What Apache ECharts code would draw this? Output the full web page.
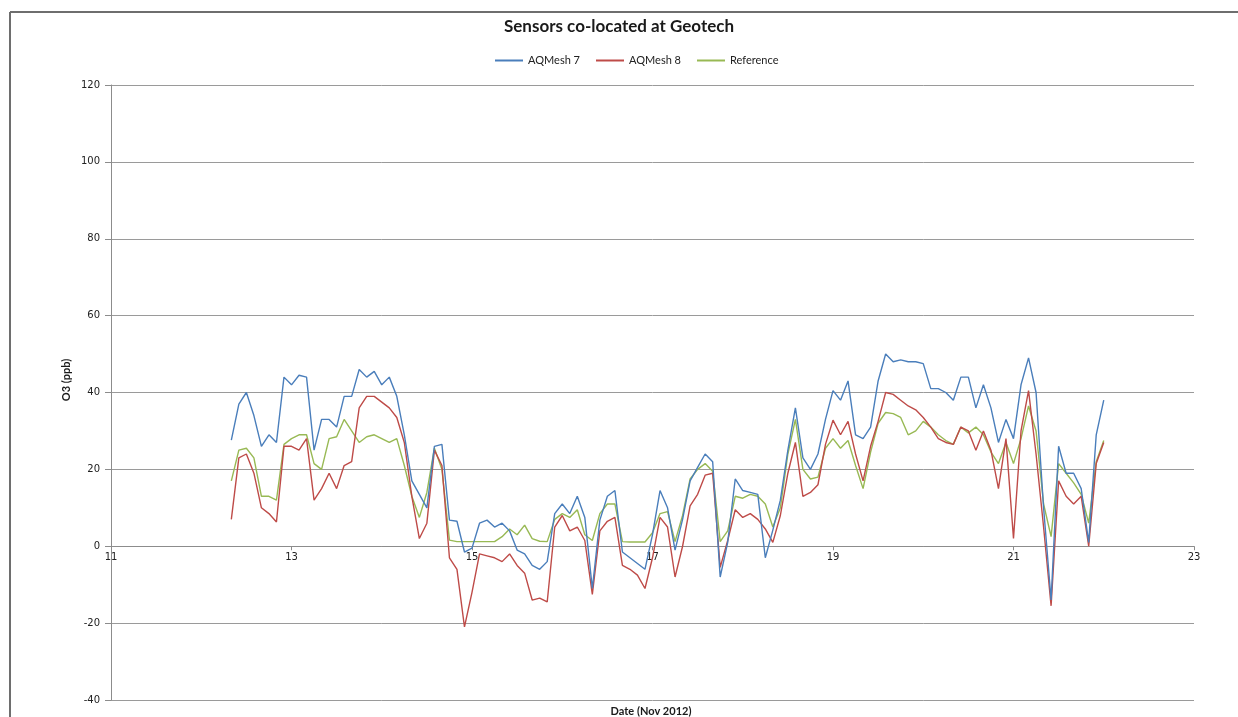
<!DOCTYPE html>
<html>
<head>
<meta charset="utf-8">
<title>Sensors co-located at Geotech</title>
<script src="https://cdn.jsdelivr.net/npm/echarts@6/dist/echarts.min.js"></script>
<style>
  html, body { margin: 0; padding: 0; background: #ffffff; }
  #chart { width: 1238px; height: 717px; }
</style>
</head>
<body>
<div id="chart"></div>
<script>
// O3 readings, one sample every 2 hours from 12 Nov 08:00 to 22 Nov 00:00
const START_DAY = 12 + 8 / 24;
const STEP_DAYS = 2 / 24;

const seriesNames = ['AQMesh 7', 'AQMesh 8', 'Reference'];
const seriesColors = ['#4a7ebb', '#be4b48', '#98b954'];

const aqmesh7 = [
  27.6, 37, 40, 34, 26, 29, 27, 44, 42, 44.5, 44, 25, 33, 33, 31, 39, 39, 46,
  44, 45.5, 42, 44, 39, 29, 17, 13.5, 10, 26, 26.5, 6.8, 6.5, -1.5, -0.5, 6, 6.8, 5, 6, 4,
  -1, -2, -5, -6, -4, 8.5, 11, 8.5, 13, 7.5, -11, 6.8, 13, 14.5, -1.5, -3, -4.5, -6, 3, 14.5,
  10, -1, 7, 17, 20.5, 24, 22, -8, 1, 17.5, 14.5, 14, 13.5, -3, 4.2, 12, 25, 36, 23, 20,
  24, 33, 40.5, 38, 43, 29, 28, 31, 43, 50, 48, 48.5, 48, 48, 47.5, 41, 41, 40, 38, 44,
  44, 36, 42, 36, 27, 33, 28, 42, 49, 40, 10, -14, 26, 19, 19, 15, 1, 29, 38
];

const aqmesh8 = [
  7, 23, 24, 19, 10, 8.5, 6.3, 26, 26, 25, 28, 12, 15, 19, 15, 21, 22, 36,
  39, 39, 37.5, 36, 33.5, 27, 13, 2, 6, 25, 21, -3, -6, -21, -12, -2, -2.5, -3, -4, -2,
  -5, -7, -14, -13.5, -14.5, 5, 8, 4, 5, 1.5, -12.5, 4, 6.5, 7.5, -5, -6, -7.5, -11, -3, 7.5,
  5, -8, 0, 10.5, 13.5, 18.5, 19, -5.5, 1.5, 9.5, 7.5, 8.5, 7, 4.5, 1, 8, 19, 27, 13, 14,
  16, 26.5, 32.8, 29, 32.5, 24, 17, 26, 32.5, 40, 39.5, 38, 36.5, 35.5, 33.5, 31, 28, 27, 26.5, 31,
  30, 25, 30, 25, 15, 28, 2, 30, 40.5, 24, 5, -15.5, 17, 13, 11, 13, 0, 21.5, 27
];

const reference = [
  17, 25, 25.5, 23, 13, 13, 12, 26.5, 28, 29, 29, 21.5, 20, 28, 28.5, 33, 30, 27,
  28.5, 29, 28, 27, 28, 21, 13, 7.5, 14, 25.5, 20, 1.6, 1.2, 1.2, 1.2, 1.2, 1.2, 1.2, 2.5, 4.5,
  3, 5.5, 2, 1.3, 1.2, 7, 8.5, 7.5, 9.5, 3, 1.5, 8.5, 11, 11, 1.2, 1.1, 1.1, 1.1, 3.5, 8.5,
  9, 1.2, 8, 17.5, 20, 21.5, 19.5, 1.2, 4, 13, 12.5, 13.5, 13, 11, 5, 10, 24, 33, 20, 17.5,
  18, 25.5, 28, 25.5, 27.5, 21, 15, 24.5, 32, 34.8, 34.5, 33.5, 29, 30, 32.5, 31, 29, 27.5, 26.5, 31,
  29.5, 31, 29, 24.5, 21.5, 27, 21.5, 28, 36.5, 30, 11, 2.5, 21.5, 19, 16.5, 13.5, 6, 22, 27.5
];

// Axis ranges and tick spacing
const xRange = { min: 11, max: 23, interval: 2 };
const yRange = { min: -40, max: 120, interval: 20 };

const sampleDays = aqmesh7.map((_, i) => START_DAY + i * STEP_DAYS);
const toPairs = values => values.map((v, i) => [sampleDays[i], v]);
const allValues = [aqmesh7, aqmesh8, reference];

const CHART_H = 717;
const gridBox = { left: 111, right: 44, top: 85, bottom: 17 };
// the date axis sits on the zero line: shift it up from the plot bottom
const plotHeight = CHART_H - gridBox.top - gridBox.bottom;
const zeroOffset = plotHeight * (0 - yRange.min) / (yRange.max - yRange.min);

const chart = echarts.init(document.getElementById('chart'), null, { renderer: 'canvas' });

const labelFont = 'DejaVu Sans';
const textFont = 'Lato';

chart.setOption({
  backgroundColor: '#ffffff',
  animation: false,
  grid: gridBox,
  legend: {
    top: 50,
    left: 490,
    itemGap: 16,
    itemWidth: 28,
    itemHeight: 2,
    icon: 'rect',
    textStyle: { fontFamily: textFont, fontSize: 11, color: '#222' },
    data: seriesNames
  },
  xAxis: {
    type: 'value',
    position: 'bottom',
    offset: -zeroOffset,
    min: xRange.min,
    max: xRange.max,
    interval: xRange.interval,
    axisLine: { show: true, onZero: false, lineStyle: { color: '#8c8c8c', width: 1 } },
    axisTick: { show: true, length: 4, lineStyle: { color: '#8c8c8c' } },
    axisLabel: { fontFamily: labelFont, fontSize: 10, color: '#222', margin: 6 },
    splitLine: { show: false }
  },
  yAxis: {
    type: 'value',
    min: yRange.min,
    max: yRange.max,
    interval: yRange.interval,
    axisLine: { show: true, onZero: false, lineStyle: { color: '#8c8c8c', width: 1 } },
    axisTick: { show: true, length: 6, lineStyle: { color: '#8c8c8c' } },
    axisLabel: { fontFamily: labelFont, fontSize: 10, color: '#222', margin: 11 },
    splitLine: { show: true, lineStyle: { color: '#9a9a9a', width: 1 } }
  },
  series: seriesNames.map((name, k) => ({
    name: name,
    type: 'line',
    symbol: 'none',
    data: toPairs(allValues[k]),
    lineStyle: { color: seriesColors[k], width: 1.4 },
    itemStyle: { color: seriesColors[k] },
    z: 3 - k
  })),
  graphic: [
    // chart area frame (left and top edges)
    { type: 'line', shape: { x1: 10, y1: 12, x2: 1238, y2: 12 }, style: { stroke: '#6e6e6e', lineWidth: 2 }, silent: true },
    { type: 'line', shape: { x1: 10, y1: 12, x2: 10, y2: 717 }, style: { stroke: '#6e6e6e', lineWidth: 2 }, silent: true },
    {
      type: 'text', left: 'center', top: 18,
      style: { text: 'Sensors co-located at Geotech', font: 'bold 17px Lato', fill: '#1a1a1a' },
      silent: true
    },
    {
      type: 'text', x: 651, y: 711,
      style: { text: 'Date (Nov 2012)', font: 'bold 11px Lato', fill: '#1a1a1a', align: 'center', verticalAlign: 'middle' },
      silent: true
    },
    {
      type: 'text', x: 66, y: 380, rotation: Math.PI / 2,
      style: { text: 'O3 (ppb)', font: 'bold 11px Lato', fill: '#1a1a1a', align: 'center', verticalAlign: 'middle' },
      silent: true
    }
  ]
});
</script>
</body>
</html>
